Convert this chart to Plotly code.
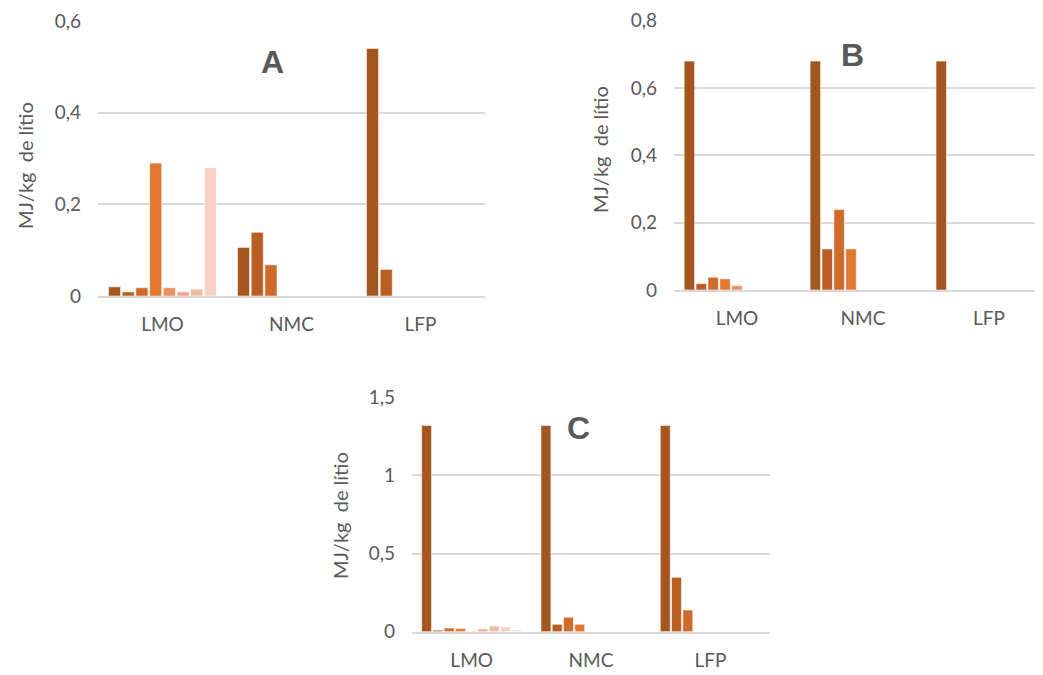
import plotly.graph_objects as go

categories = ["LMO", "NMC", "LFP"]
series_names = [f"Série {i}" for i in range(1, 10)]

# Chart A (8 series)
a_s1 = [0.020, 0.106, 0.540]
a_s2 = [0.009, 0.139, 0.058]
a_s3 = [0.018, 0.068, 0]
a_s4 = [0.290, 0, 0]
a_s5 = [0.018, 0, 0]
a_s6 = [0.009, 0, 0]
a_s7 = [0.015, 0, 0]
a_s8 = [0.280, 0, 0]

# Chart B (9 series)
b_s1 = [0.680, 0.680, 0.680]
b_s2 = [0.019, 0.122, 0]
b_s3 = [0.038, 0.239, 0]
b_s4 = [0.033, 0.122, 0]
b_s5 = [0.013, 0, 0]
b_s6 = [0, 0, 0]
b_s7 = [0, 0, 0]
b_s8 = [0, 0, 0]
b_s9 = [0, 0, 0]

# Chart C (9 series)
c_s1 = [1.320, 1.320, 1.320]
c_s2 = [0.010, 0.047, 0.348]
c_s3 = [0.023, 0.092, 0.139]
c_s4 = [0.021, 0.047, 0]
c_s5 = [0.003, 0, 0]
c_s6 = [0.017, 0, 0]
c_s7 = [0.036, 0, 0]
c_s8 = [0.030, 0, 0]
c_s9 = [0.011, 0, 0]

colors = ["#A5561F", "#BA5E24", "#CF6A2A", "#E27830", "#EC8F5E",
          "#F1A585", "#F4B9A2", "#F6D1C3", "#F8DCD2"]

A = [a_s1, a_s2, a_s3, a_s4, a_s5, a_s6, a_s7, a_s8]
B = [b_s1, b_s2, b_s3, b_s4, b_s5, b_s6, b_s7, b_s8, b_s9]
C = [c_s1, c_s2, c_s3, c_s4, c_s5, c_s6, c_s7, c_s8, c_s9]

OFF = 8  # page body margin
W, H = 1043 - OFF, 675 - OFF
TXT = "#595959"
GRID = "#D9D9D9"
FONT = "Lato"

fig = go.Figure()

def add_series(data, xa, ya):
    for i, vals in enumerate(data):
        fig.add_trace(go.Bar(
            x=categories, y=vals, name=series_names[i],
            marker=dict(color=colors[i], line=dict(color="rgba(255,255,255,0.55)", width=1)),
            xaxis=xa, yaxis=ya, showlegend=False,
        ))

add_series(A, "x", "y")
add_series(B, "x2", "y2")
add_series(C, "x3", "y3")

def px_x(p):
    return min(1.0, max(0.0, (p - OFF) / W))

def px_y(p):
    return min(1.0, max(0.0, 1 - (p - OFF) / H))

xcommon = dict(type="category", showgrid=False, showline=True, linecolor=GRID, linewidth=2,
               ticks="", tickfont=dict(family=FONT, size=19, color=TXT), ticklabelstandoff=10,
               zeroline=False, fixedrange=True, automargin=False)
ycommon = dict(showgrid=True, gridcolor=GRID, gridwidth=1.5, showline=False, zeroline=False,
               ticks="", tickfont=dict(family=FONT, size=19, color=TXT), ticklabelstandoff=16,
               fixedrange=True, automargin=False)

fig.update_layout(
    width=W, height=H,
    margin=dict(l=0, r=0, t=0, b=0, autoexpand=False),
    paper_bgcolor="white", plot_bgcolor="white",
    barmode="group", bargap=0.15, bargroupgap=0.12,
    separators=",.",
    xaxis=dict(xcommon, domain=[px_x(98), px_x(485)], anchor="y"),
    yaxis=dict(ycommon, domain=[px_y(296), px_y(21)], range=[0, 0.6], dtick=0.2, anchor="x"),
    xaxis2=dict(xcommon, domain=[px_x(674), px_x(1043)], range=[-0.5, 2.43], anchor="y2"),
    yaxis2=dict(ycommon, domain=[px_y(290), px_y(20.7)], range=[0, 0.8], dtick=0.2, anchor="x2"),
    xaxis3=dict(xcommon, domain=[px_x(412), px_x(770)], anchor="y3"),
    yaxis3=dict(ycommon, domain=[px_y(631.7), px_y(397.3)], range=[0, 1.5], dtick=0.5, anchor="x3"),
)

def label(text, x, y, size=32, bold=True, angle=0):
    fig.add_annotation(
        text=f"<b>{text}</b>" if bold else text,
        x=px_x(x), y=px_y(y), xref="paper", yref="paper",
        showarrow=False, textangle=angle, xanchor="center", yanchor="middle",
        font=dict(family="Liberation Sans" if bold else FONT, size=size, color=TXT),
    )

label("A", 272, 62)
label("B", 852, 55)
label("C", 578, 428)

ytitle = "MJ/kg  de lítio"
label(ytitle, 25, 166, size=20, bold=False, angle=-90)
label(ytitle, 600, 150, size=20, bold=False, angle=-90)
label(ytitle, 340, 516, size=20, bold=False, angle=-90)

fig.write_html("out.html")
